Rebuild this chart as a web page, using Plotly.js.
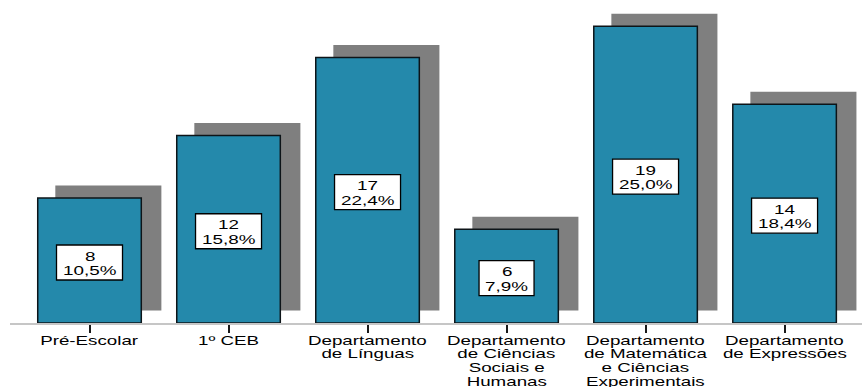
<!DOCTYPE html>
<html>
<head>
<meta charset="utf-8">
<script src="https://cdn.plot.ly/plotly-3.0.1.min.js"></script>
<style>
  html, body { margin: 0; padding: 0; background: #ffffff; }
  #chart { width: 862px; height: 387px; }
  /* wide, slightly stretched lettering for the annotation text */
  .annotation-text {
    transform-box: fill-box;
    transform-origin: center;
    transform: scaleX(1.45);
  }
  .category-label .annotation-text { transform: scaleX(1.5); }
</style>
</head>
<body>
<div id="chart"></div>
<script>
// Teachers per department: count and share of the total
const categories = [
  'Pré-Escolar',
  '1º CEB',
  'Departamento de Línguas',
  'Departamento de Ciências Sociais e Humanas',
  'Departamento de Matemática e Ciências Experimentais',
  'Departamento de Expressões'
];
const categoryLines = [
  ['Pré-Escolar'],
  ['1º CEB'],
  ['Departamento', 'de Línguas'],
  ['Departamento', 'de Ciências', 'Sociais e', 'Humanas'],
  ['Departamento', 'de Matemática', 'e Ciências', 'Experimentais'],
  ['Departamento', 'de Expressões']
];
const counts = [8, 12, 17, 6, 19, 14];
const percents = ['10,5%', '15,8%', '22,4%', '7,9%', '25,0%', '18,4%'];

// styling
const BAR_COLOR = '#2489ab';
const SHADOW_COLOR = '#7f7f7f';
const FONT = 'Liberation Sans, Arial, sans-serif';
const SHADOW_LIFT = 0.8;      // shadow raised by this many units
const BAR_WIDTH = 0.745;
const SHADOW_WIDTH = 0.763;
const SHADOW_OFFSET = -0.246;

const shadowTrace = {
  type: 'bar',
  x: categories,
  y: counts,
  base: counts.map(() => SHADOW_LIFT),
  width: SHADOW_WIDTH,
  offset: SHADOW_OFFSET,
  marker: { color: SHADOW_COLOR, line: { width: 0 } },
  hoverinfo: 'skip'
};

const barTrace = {
  type: 'bar',
  x: categories,
  y: counts,
  width: BAR_WIDTH,
  marker: { color: BAR_COLOR, line: { color: '#0d1418', width: 1.5 } },
  hoverinfo: 'skip'
};

// value boxes (white with black border) centred in each bar
const shapes = categories.map((c, i) => {
  const w = 11 * percents[i].length + 11;
  return {
    type: 'rect',
    xref: 'x', yref: 'y',
    xsizemode: 'pixel', ysizemode: 'pixel',
    xanchor: c, yanchor: counts[i] / 2,
    x0: -w / 2, x1: w / 2,
    y0: -19.5, y1: 15.5,
    fillcolor: '#ffffff',
    line: { color: '#000000', width: 1.3 },
    layer: 'above'
  };
});

const valueFont = { family: FONT, size: 13, color: '#000000' };
const labelFont = { family: FONT, size: 12.5, color: '#000000' };
const annotations = [];
categories.forEach((c, i) => {
  annotations.push({
    x: c, y: counts[i] / 2, xref: 'x', yref: 'y',
    text: String(counts[i]), showarrow: false,
    xanchor: 'center', yanchor: 'middle', yshift: 4.8,
    font: valueFont
  });
  annotations.push({
    x: c, y: counts[i] / 2, xref: 'x', yref: 'y',
    text: percents[i], showarrow: false,
    xanchor: 'center', yanchor: 'middle', yshift: -9.8,
    font: valueFont
  });
  // category label, one line at a time with tight spacing
  categoryLines[i].forEach((line, k) => {
    annotations.push({
      x: c, y: 0, xref: 'x', yref: 'paper',
      text: line, showarrow: false,
      xanchor: 'center', yanchor: 'middle',
      yshift: -(17.5 + 13.8 * k),
      font: labelFont,
      name: 'category-label'
    });
  });
});

const layout = {
  width: 862,
  height: 387,
  margin: { l: 10, r: 0, t: 0, b: 64 },
  paper_bgcolor: '#ffffff',
  plot_bgcolor: '#ffffff',
  barmode: 'overlay',
  showlegend: false,
  xaxis: {
    type: 'category',
    range: [-0.572, 5.557],
    showticklabels: false,
    showgrid: false,
    zeroline: false,
    showline: true,
    linecolor: '#c6c6c6',
    linewidth: 2,
    ticks: 'outside',
    ticklen: 8,
    tickwidth: 2,
    tickcolor: '#1a1a1a'
  },
  yaxis: {
    range: [0, 20.672],
    visible: false,
    showgrid: false,
    zeroline: false
  },
  shapes: shapes,
  annotations: annotations
};

Plotly.newPlot('chart', [shadowTrace, barTrace], layout, { staticPlot: true, displayModeBar: false })
  .then(gd => {
    // tag the category-label annotations so their stretch can differ
    gd.querySelectorAll('.annotation').forEach((node, idx) => {
      if (layout.annotations[idx] && layout.annotations[idx].name === 'category-label') {
        node.classList.add('category-label');
      }
    });
  });
</script>
</body>
</html>
